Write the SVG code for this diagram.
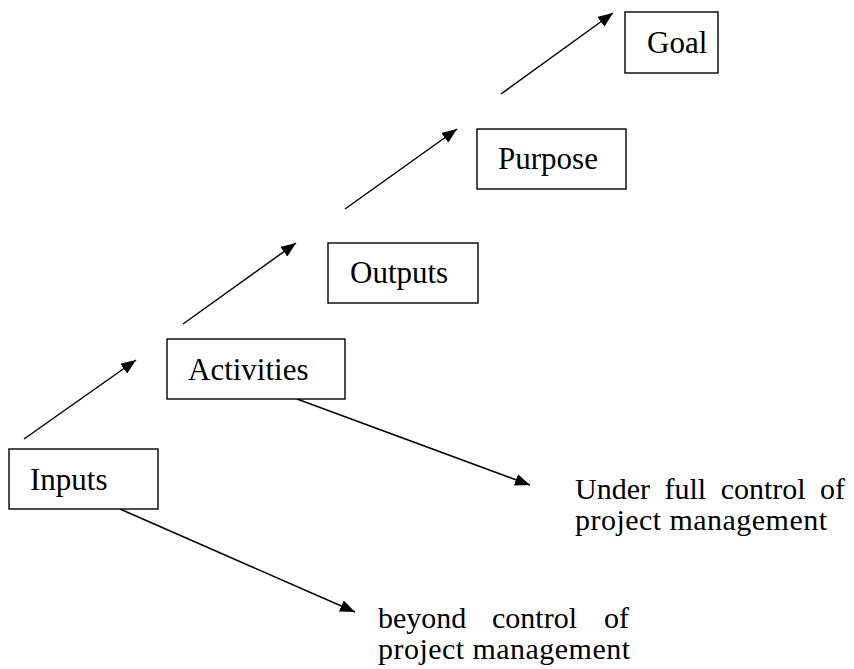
<svg xmlns="http://www.w3.org/2000/svg" width="854" height="669" viewBox="0 0 854 669">
  <style>
    .box { fill: #fff; stroke: #000; stroke-width: 1.4; }
    .lbl { font-family: "Liberation Serif", "Times New Roman", serif; font-size: 31px; fill: #000; }
    .note { font-family: "Liberation Serif", "Times New Roman", serif; font-size: 30px; fill: #000; }
    .conn { stroke: #000; stroke-width: 1.5; fill: none; marker-end: url(#head); }
  </style>
  <defs>
    <marker id="head" markerUnits="userSpaceOnUse" markerWidth="16" markerHeight="12" refX="15" refY="6" orient="auto">
      <path d="M0,0 L15,6 L0,12 Z" fill="#000"/>
    </marker>
  </defs>

  <g id="connectors">
    <line class="conn" x1="24" y1="439" x2="136" y2="360"/>
    <line class="conn" x1="183" y1="324" x2="296" y2="243"/>
    <line class="conn" x1="345" y1="209" x2="457" y2="129"/>
    <line class="conn" x1="501" y1="94" x2="613" y2="13"/>
    <line class="conn" x1="297" y1="399" x2="530" y2="485"/>
    <line class="conn" x1="120" y1="509" x2="355" y2="612"/>
  </g>

  <g id="inputs">
    <rect class="box" x="9" y="449" width="149" height="60"/>
    <text class="lbl" x="30" y="490">Inputs</text>
  </g>
  <g id="activities">
    <rect class="box" x="167" y="339" width="178" height="60"/>
    <text class="lbl" x="188" y="380">Activities</text>
  </g>
  <g id="outputs">
    <rect class="box" x="328" y="243" width="150" height="60"/>
    <text class="lbl" x="350" y="283">Outputs</text>
  </g>
  <g id="purpose">
    <rect class="box" x="477" y="129" width="149" height="60"/>
    <text class="lbl" x="498" y="169">Purpose</text>
  </g>
  <g id="goal">
    <rect class="box" x="625" y="12" width="93" height="61"/>
    <text class="lbl" x="647" y="53">Goal</text>
  </g>

  <g id="full-control-note">
    <text class="note" x="575" y="499" word-spacing="7">Under full control of</text>
    <text class="note" x="575" y="530" textLength="252" lengthAdjust="spacing">project management</text>
  </g>
  <g id="beyond-control-note">
    <text class="note" y="628"><tspan x="378">beyond</tspan><tspan x="492">control</tspan><tspan x="604">of</tspan></text>
    <text class="note" x="378" y="659" textLength="252" lengthAdjust="spacing">project management</text>
  </g>
</svg>
